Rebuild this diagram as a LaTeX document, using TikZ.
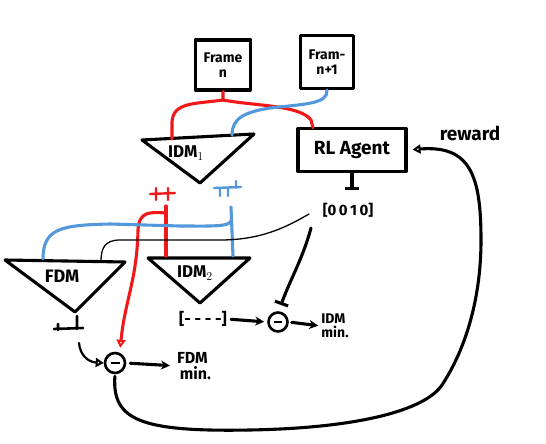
\documentclass[tikz,border=0pt]{standalone}
\usepackage{fontspec}
\setmainfont{Fira Sans}
\usetikzlibrary{arrows.meta,calc}
\definecolor{skred}{RGB}{240,24,24}
\definecolor{skblue}{RGB}{84,152,220}
\begin{document}
\begin{tikzpicture}[x=1pt,y=-1pt, line cap=round, line join=round,
  ink/.style={line width=3.1pt},
  fine/.style={line width=1.3pt},
  redink/.style={line width=3.1pt, draw=skred},
  blueink/.style={line width=3.1pt, draw=skblue},
  framebox/.style={draw, line width=3.1pt, minimum width=55pt, minimum height=50pt,
    align=center, inner sep=1pt, font=\bfseries\fontsize{14}{15}\selectfont},
  model/.style={font=\bfseries\fontsize{17}{18}\selectfont, inner sep=0pt},
  txt/.style={font=\bfseries\fontsize{16}{15}\selectfont, align=left, inner sep=0pt},
  minus/.style={draw, circle, line width=2.6pt, minimum size=20pt, inner sep=0pt},
  tip/.style={-{Stealth[length=9pt,width=9pt]}},
  opentip/.style={-{Triangle[open,length=8pt,width=9pt]}},
  blunt/.style={-{Bar[width=14pt]}}
]
\useasboundingbox (0,0) rectangle (546,444);

% input frames
\node[framebox] (fn) at (223,65) {Frame\\n};
\node[framebox, minimum width=53pt, minimum height=53pt] (fn1) at (327,62) {Fram-\\n+1};

% RL agent
\node[draw, line width=3.1pt, minimum width=108pt, minimum height=43pt,
  font=\bfseries\fontsize{19}{20}\selectfont] (rl) at (352,150) {RL Agent};
\node[font=\bfseries\fontsize{19}{20}\selectfont, inner sep=0pt] (reward) at (470,133) {reward};

% inverse dynamics model 1
\draw[ink] (142,140) -- (254,134) -- (200,183) -- cycle;
\node[model] (idm1) at (186,153) {IDM$_1$};
\coordinate (i1red) at (172,139);
\coordinate (i1blue) at (232,135);

% forward dynamics model
\draw[ink] (5,260) -- (125,262) -- (75,312) -- cycle;
\node[model, font=\bfseries\fontsize{18}{18}\selectfont] (fdm) at (62,276) {FDM};
\coordinate (fdmblue) at (43,259);
\coordinate (fdmblack) at (101,261);

% inverse dynamics model 2
\draw[ink] (148,258) -- (250,258) -- (200,303) -- cycle;
\node[model] (idm2) at (195,273) {IDM$_2$};
\coordinate (i2red) at (166,256);
\coordinate (i2blue) at (233,256);

% frame n feeds IDM1 and the agent
\coordinate (rsplit) at (223,100);
\coordinate (rlred) at (313,128);
\draw[redink] (fn.south) -- (rsplit) .. controls (195,104) and (173,102) .. (172,122) -- (i1red);
\draw[redink] (rsplit) .. controls (255,106) and (300,105) .. (311,120) -- (rlred);

% frame n+1 feeds IDM1
\draw[blueink] (fn1.south) .. controls (328,104) and (305,104) .. (270,108)
  .. controls (245,112) and (232,118) .. (i1blue);

% IDM1 outputs
\draw[redink, line width=2.4pt] (150,194) -- (175,193) (156,188) -- (156,200) (168,188) -- (168,200);
\draw[blueink, line width=2.4pt] (214,188) -- (241,187) (220,188) -- (220,196)
  (228,188) -- (228,196) (236,181) -- (236,188);
\coordinate (rstem) at (166,206);
\coordinate (rbr) at (166,213);
\coordinate (bstem) at (231,207);
\coordinate (bbr) at (231,221);

% minus circles
\node[minus] (c1) at (115,363) {\rule{9pt}{2.6pt}};
\node[minus, minimum size=19pt] (c2) at (278,322) {\rule{8pt}{2.6pt}};

\draw[redink] (rstem) -- (i2red);
\draw[redink, opentip, shorten >=5pt] (rbr) .. controls (150,212) and (139,211) .. (138,230)
  .. controls (137,280) and (125,300) .. (c1.65);
\draw[blueink] (bstem) -- (i2blue);
\draw[blueink] (bbr) .. controls (229,227) and (210,226) .. (180,226) -- (110,224)
  .. controls (60,225) and (43,229) .. (fdmblue);

% agent action
\draw[ink, blunt] (rl.south) -- ++(0,17);
\node[txt, font=\bfseries\fontsize{15}{15}\selectfont] (vec) at (348,210) {[0\,0\,1\,0]};
\coordinate (vecthin) at (309,214);
\coordinate (vecthick) at (311,228);
\coordinate (c2top) at (281,305);
\draw[fine] (vecthin) .. controls (285,228) and (260,240) .. (220,240) -- (120,240)
  .. controls (105,240) and (101,248) .. (fdmblack);
\draw[ink, blunt] (vecthick) .. controls (303,258) and (290,280) .. (c2top);

% FDM output and its loss
\draw[ink, line width=2.6pt] (54,329) -- (83,328) (58,324) -- (58,330) (77,316) -- (77,329);
\coordinate (fout) at (79,343);
\draw[ink, line width=2.2pt, opentip] (fout) .. controls (80,355) and (88,362) .. (c1.west);
\node[txt] (fdmmin) at (194,366) {FDM\\[1pt]\,min.};
\draw[ink, tip, shorten <=4pt, shorten >=7pt] (c1.east) -- (fdmmin.west);

% IDM2 output and its loss
\node[txt] (act) at (203,319) {[- - - -]};
\node[txt, font=\bfseries\fontsize{14}{13}\selectfont] (idmmin) at (335,326) {IDM\\[1pt]min.};
\draw[ink, tip, shorten <=4pt, shorten >=3pt] (act.east) -- (c2.west);
\draw[ink, tip, shorten <=3pt, shorten >=3pt] (c2.east) -- (idmmin.west);

% reward loop back to the agent
\draw[ink, opentip, shorten <=2pt, shorten >=5pt] (c1.south) .. controls (112,420) and (140,432) .. (250,430)
  .. controls (360,428) and (425,410) .. (442,385)
  .. controls (465,350) and (481,300) .. (481,240)
  .. controls (481,175) and (470,145) .. (rl.east);
\end{tikzpicture}
\end{document}
